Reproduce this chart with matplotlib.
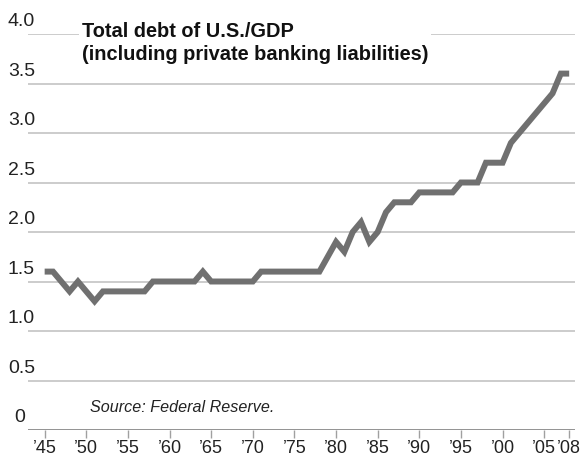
import matplotlib
matplotlib.use("agg")
import matplotlib.pyplot as plt
import matplotlib.transforms as mtransforms

years = list(range(1945, 2009))
debt_gdp = [1.6, 1.6, 1.5, 1.4, 1.5, 1.4, 1.3, 1.4, 1.4, 1.4,
            1.4, 1.4, 1.4, 1.5, 1.5, 1.5, 1.5, 1.5, 1.5, 1.6,
            1.5, 1.5, 1.5, 1.5, 1.5, 1.5, 1.6, 1.6, 1.6, 1.6,
            1.6, 1.6, 1.6, 1.6, 1.75, 1.9, 1.8, 2.0, 2.1, 1.9,
            2.0, 2.2, 2.3, 2.3, 2.3, 2.4, 2.4, 2.4, 2.4, 2.4,
            2.5, 2.5, 2.5, 2.7, 2.7, 2.7, 2.9, 3.0, 3.1, 3.2,
            3.3, 3.4, 3.6, 3.6]

x_ticks = [1945, 1950, 1955, 1960, 1965, 1970, 1975, 1980, 1985, 1990,
           1995, 2000, 2005, 2008]
x_labels = ["\u201945", "\u201950", "\u201955", "\u201960", "\u201965", "\u201970",
            "\u201975", "\u201980", "\u201985", "\u201990", "\u201995", "\u201900",
            "\u201905", "\u201908"]
y_ticks = [0.5, 1.0, 1.5, 2.0, 2.5, 3.0, 3.5, 4.0]
y_labels = ["0.5", "1.0", "1.5", "2.0", "2.5", "3.0", "3.5", "4.0"]

plt.rcParams["font.family"] = ["Liberation Sans", "DejaVu Sans"]

fig = plt.figure(figsize=(5.86, 4.63), dpi=100)
ax = fig.add_axes([28 / 586, 1 - 430 / 463, 547 / 586, 396 / 463])
ax.set_xlim(1943.0, 2008.7)
ax.set_ylim(0, 4.0)

for s in ["top", "right", "left", "bottom"]:
    ax.spines[s].set_visible(False)

# grid lines
for yv in y_ticks:
    ax.axhline(yv, color="#c4c4c4", lw=1.2, zorder=1)
ax.axhline(0, color="#8a8a8a", lw=1.3, zorder=2)

ax.plot(years, debt_gdp, color="#707070", lw=4.3, solid_joinstyle="miter",
        solid_capstyle="butt", zorder=3, clip_on=False)

ax.set_xticks(x_ticks)
ax.set_xticklabels(x_labels, fontsize=13, color="#222222")
ax.tick_params(axis="x", length=6, width=1, color="#a0a0a0", pad=1)
ax.set_yticks([])

# y labels sit above the grid lines
trans = mtransforms.blended_transform_factory(ax.transAxes, ax.transData)
for yv, lab in zip(y_ticks, y_labels):
    ax.text(-0.037, yv + 0.04, lab, transform=trans, fontsize=14,
            color="#222222", ha="left", va="bottom")
ax.text(-0.026, 0.04, "0", transform=trans, fontsize=14,
        color="#222222", ha="left", va="bottom")

fig.text(82 / 586, 1 - 22 / 463, "Total debt of U.S./GDP\n(including private banking liabilities)",
         fontsize=14.4, fontweight="bold", color="#111111", ha="left", va="top",
         linespacing=1.25,
         bbox=dict(facecolor="white", edgecolor="none", pad=2), zorder=5)

fig.text(90 / 586, 1 - 408 / 463, "Source: Federal Reserve.", fontsize=11.6,
         style="italic", color="#222222", ha="left", va="center")

plt.savefig("out.png", dpi=100, facecolor="white")
plt.close()
